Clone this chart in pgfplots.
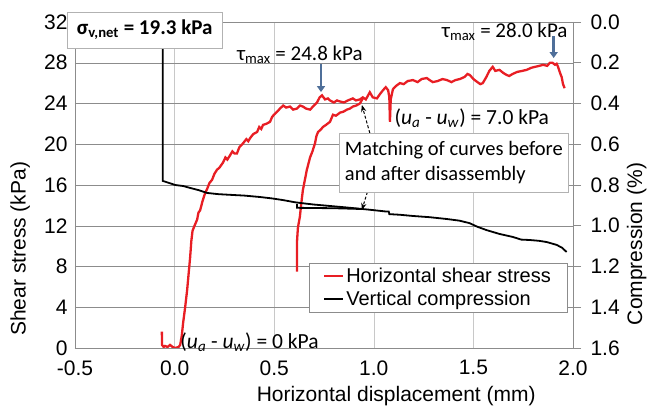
\documentclass[border=0pt]{standalone}
\usepackage{fontspec}
\setmainfont{Liberation Sans}
\newfontfamily\calib{Carlito}
\usepackage{pgfplots}
\pgfplotsset{compat=1.18}
\usetikzlibrary{arrows.meta}
\definecolor{curvered}{RGB}{232,30,36}
\definecolor{arrowblue}{RGB}{79,111,153}
\definecolor{gridh}{RGB}{140,140,140}
\definecolor{gridv}{RGB}{200,200,200}

\begin{document}
\begin{tikzpicture}
\useasboundingbox (-75pt,-63pt) rectangle (574pt,348pt);
% left axis: shear stress
\begin{axis}[
  at={(0pt,0pt)}, anchor=south west,
  scale only axis, width=498pt, height=326pt,
  xmin=-0.5, xmax=2.0, ymin=0, ymax=32,
  xtick={-0.5,0,0.5,1.0,1.5,2.0},
  ytick={0,4,8,12,16,20,24,28,32},
  axis x line*=bottom, axis y line*=left,
  axis line style={gridh},
  major tick length=0pt,
  xmajorgrids, ymajorgrids,
  x grid style={gridv}, y grid style={gridh},
  /pgf/number format/assume math mode=true,
  tick label style={font=\fontsize{21}{24}\selectfont},
  xticklabel style={yshift=-9pt, /pgf/number format/.cd, fixed, fixed zerofill, precision=1},
  yticklabel style={xshift=-4pt},
  xlabel={Horizontal displacement (mm)},
  ylabel={Shear stress (kPa)},
  label style={font=\fontsize{21}{24}\selectfont},
  xlabel style={at={(axis description cs:0.645,-0.148)}, anchor=center},
  ylabel style={at={(axis description cs:-0.110,0.304)}, anchor=center},
]
\addplot[curvered, line width=2.3pt] coordinates {
(-0.064,1.6) (-0.063,0.3) (-0.055,0.1) (-0.048,0.2) (-0.035,0.1) (-0.023,0.3) (-0.010,0.1) (0.003,0.0) (0.020,0.1) (0.028,0.3) (0.036,1.2) (0.043,2.5) (0.053,4.0) (0.063,5.7) (0.070,7.2) (0.078,8.9) (0.084,10.5) (0.090,11.5) (0.100,12.0) (0.113,12.6) (0.120,13.3) (0.128,13.5) (0.140,14.4) (0.153,15.2) (0.163,15.6) (0.175,16.2) (0.188,16.5) (0.200,17.1) (0.213,17.5) (0.225,17.7) (0.243,18.2) (0.255,18.7) (0.265,18.5) (0.278,18.9) (0.290,19.3) (0.300,19.1) (0.313,19.1) (0.325,19.7) (0.344,20.1) (0.360,20.5) (0.370,20.3) (0.379,20.6) (0.395,21.0) (0.414,21.2) (0.425,21.7) (0.435,21.5) (0.444,21.9) (0.460,22.0) (0.479,22.2) (0.490,22.7) (0.504,23.0) (0.515,23.2) (0.529,23.5) (0.545,23.8) (0.560,23.6) (0.579,23.7) (0.595,23.4) (0.614,23.5) (0.630,23.8) (0.644,23.7) (0.660,23.5) (0.680,23.4) (0.700,23.8) (0.715,24.1) (0.728,24.6) (0.740,24.8) (0.755,24.4) (0.770,24.5) (0.780,24.3) (0.800,24.1) (0.815,24.3) (0.830,24.2) (0.850,24.1) (0.870,24.3) (0.895,24.5) (0.910,24.3) (0.930,24.4) (0.945,24.6) (0.960,24.4) (0.980,25.1) (0.995,24.6) (1.016,24.5) (1.030,24.9) (1.046,25.3) (1.060,25.6) (1.072,25.3) (1.078,24.6) (1.081,22.2) (1.085,24.4) (1.096,25.4) (1.110,25.7) (1.131,26.0) (1.150,25.9) (1.170,26.2) (1.196,26.3) (1.220,26.1) (1.240,26.4) (1.266,26.5) (1.280,26.3) (1.296,26.1) (1.320,26.2) (1.345,26.4) (1.367,26.3) (1.390,26.1) (1.410,26.3) (1.432,26.4) (1.455,26.6) (1.470,26.9) (1.482,26.8) (1.500,26.4) (1.520,26.1) (1.535,25.9) (1.547,26.0) (1.565,26.6) (1.580,27.2) (1.597,27.6) (1.610,27.2) (1.631,27.3) (1.650,27.0) (1.667,26.8) (1.680,26.7) (1.697,26.9) (1.720,27.1) (1.745,27.2) (1.767,27.3) (1.790,27.5) (1.810,27.6) (1.832,27.7) (1.850,27.8) (1.870,27.7) (1.885,28.0) (1.897,28.0) (1.910,27.8) (1.918,27.9) (1.925,27.6) (1.935,27.0) (1.943,26.6) (1.950,25.9) (1.958,25.5)
};
\addplot[curvered, line width=2.3pt] coordinates {
(0.614,7.5) (0.614,9.2) (0.615,10.6) (0.619,11.8) (0.629,12.9) (0.636,14.2) (0.644,15.5) (0.655,16.6) (0.664,17.5) (0.672,18.1) (0.680,18.7) (0.692,19.3) (0.705,20.1) (0.712,20.8) (0.720,21.2) (0.732,21.4) (0.745,21.7) (0.760,21.9) (0.780,22.2) (0.795,22.9) (0.810,22.8) (0.830,23.1) (0.848,23.2) (0.865,23.4) (0.880,23.5) (0.895,23.7) (0.912,23.8) (0.930,24.0) (0.945,24.5)
};
\end{axis}
% right axis: compression
\begin{axis}[
  at={(0pt,0pt)}, anchor=south west,
  scale only axis, width=498pt, height=326pt,
  xmin=-0.5, xmax=2.0, ymin=0, ymax=1.6, y dir=reverse,
  axis x line=none, axis y line*=right,
  axis line style={gridh},
  ytick={0,0.2,0.4,0.6,0.8,1.0,1.2,1.4,1.6},
  tick align=outside, major tick length=8pt,
  ytick style={gridh, line width=0.6pt},
  /pgf/number format/assume math mode=true,
  tick label style={font=\fontsize{21}{24}\selectfont},
  yticklabel style={xshift=6pt, /pgf/number format/.cd, fixed, fixed zerofill, precision=1},
  ylabel={Compression (\%)},
  label style={font=\fontsize{21}{24}\selectfont},
  ylabel style={at={(axis description cs:1.128,0.319)}, anchor=center, rotate=0},
  clip=false,
  legend style={at={(0.988,0.261)}, anchor=north east, draw=gridh, fill=white,
    font=\fontsize{20}{24}\selectfont, inner xsep=14pt, inner ysep=3pt, row sep=3pt,
    cells={anchor=west}},
  legend image code/.code={\draw[#1] (0pt,0pt) -- (19pt,0pt);},
]
\addlegendimage{curvered, line width=2.3pt}
\addlegendentry{Horizontal shear stress}
\addplot[black, line width=1.8pt] coordinates {
(-0.059,0.000) (-0.059,0.780) (0.003,0.800) (0.043,0.805) (0.080,0.815) (0.120,0.825) (0.163,0.839) (0.220,0.845) (0.293,0.849) (0.350,0.852) (0.429,0.859) (0.490,0.866) (0.544,0.874) (0.600,0.884) (0.629,0.888) (0.700,0.896) (0.780,0.903) (0.860,0.910) (0.945,0.918) (0.995,0.923) (1.060,0.930) (1.075,0.930) (1.078,0.943) (1.130,0.946) (1.196,0.952) (1.280,0.958) (1.367,0.967) (1.430,0.975) (1.480,0.987) (1.520,1.005) (1.565,1.021) (1.630,1.040) (1.698,1.055) (1.740,1.068) (1.783,1.070) (1.830,1.074) (1.868,1.080) (1.918,1.094) (1.945,1.108) (1.968,1.129)
};
\addlegendentry{Vertical compression}
\addplot[black, line width=1.8pt, forget plot] coordinates {
(0.614,0.893) (0.614,0.912) (0.700,0.913) (0.800,0.914) (0.945,0.918)
};
% annotations
\node[draw=gray!60, fill=white, font=\calib\bfseries\fontsize{21}{24}\selectfont,
  minimum width=155pt, minimum height=36pt, inner sep=0pt]
  at (axis cs:-0.150,0.039) {σ\textsubscript{v,net} = 19.3 kPa};
\node[font=\calib\fontsize{21}{24}\selectfont] at (axis cs:0.629,0.162)
  {τ\textsubscript{max} = 24.8 kPa};
\node[font=\calib\fontsize{21}{24}\selectfont] at (axis cs:1.657,0.049)
  {τ\textsubscript{max} = 28.0 kPa};
\draw[arrowblue, line width=2.5pt, -{Triangle[length=6pt,width=8pt]}]
  (axis cs:0.735,0.206) -- (axis cs:0.735,0.344);
\draw[arrowblue, line width=2.5pt, -{Triangle[length=6pt,width=8pt]}]
  (axis cs:1.903,0.069) -- (axis cs:1.903,0.177);
\node[font=\calib\fontsize{21.5}{24}\selectfont] at (axis cs:1.492,0.471)
  {(\textit{u}\textsubscript{\textit{a}} - \textit{u}\textsubscript{\textit{w}}) = 7.0 kPa};
\node[font=\calib\fontsize{21.5}{24}\selectfont] at (axis cs:0.376,1.571)
  {(\textit{u}\textsubscript{\textit{a}} - \textit{u}\textsubscript{\textit{w}}) = 0 kPa};
\draw[black, line width=1pt, densely dashed, -{Stealth[length=7pt]}]
  (axis cs:0.980,0.545) -- (axis cs:0.940,0.407);
\draw[black, line width=1pt, densely dashed, -{Stealth[length=7pt]}]
  (axis cs:0.968,0.834) -- (axis cs:0.940,0.923);
\node[draw=gray!60, fill=white, font=\calib\fontsize{20.5}{25}\selectfont,
  minimum width=229pt, minimum height=59pt, align=left, inner sep=3pt]
  at (axis cs:1.402,0.690) {Matching of curves before\\and after disassembly};
\end{axis}
\end{tikzpicture}
\end{document}
